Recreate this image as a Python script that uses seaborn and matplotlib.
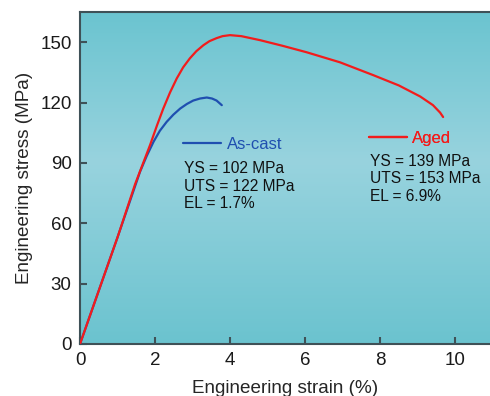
import numpy as np
import pandas as pd
import matplotlib
matplotlib.use("Agg")
import matplotlib.pyplot as plt
from matplotlib.colors import LinearSegmentedColormap
from matplotlib.lines import Line2D
import seaborn as sns

# values
aged_strain = [0, 0.5, 1.0, 1.47, 1.87, 2.05, 2.22, 2.4, 2.58, 2.75, 2.93, 3.1, 3.29, 3.45, 3.64,
               3.8, 4.0, 4.3, 4.8, 5.4, 6.04, 6.93, 7.82, 8.5, 9.07, 9.41, 9.6, 9.68]
aged_stress = [0, 26.5, 53, 79.5, 99, 108.5, 117, 125, 132, 137.5, 142, 145.5, 148.5, 150.5, 152,
               153, 153.5, 153, 151, 148.2, 145, 140, 133.6, 128.5, 123, 118.7, 115, 112.8]

cast_strain = [0, 0.5, 1.0, 1.47, 1.6, 1.78, 1.96, 2.13, 2.31, 2.49, 2.67, 2.85, 3.02, 3.2,
               3.38, 3.52, 3.64, 3.78]
cast_stress = [0, 26.5, 53, 78.5, 85.6, 93.5, 100.5, 106, 110.4, 114, 117, 119.3, 121, 122,
               122.5, 122, 121, 118.7]

series = ["As-cast", "Aged"]
colors = ["#1f4fb0", "#f21c1c"]
props = [["YS = 102 MPa", "UTS = 122 MPa", "EL = 1.7%"],
         ["YS = 139 MPa", "UTS = 153 MPa", "EL = 6.9%"]]

df = pd.concat([
    pd.DataFrame({"strain": cast_strain, "stress": cast_stress, "state": "As-cast"}),
    pd.DataFrame({"strain": aged_strain, "stress": aged_stress, "state": "Aged"}),
])

sns.set_style("ticks")
plt.rcParams["font.family"] = ["Liberation Sans", "DejaVu Sans"]

fig = plt.figure(figsize=(4.9, 3.96), dpi=100)
ax = fig.add_axes([80 / 490, 52 / 396, 410 / 490, 332 / 396])

# gradient background
bg = LinearSegmentedColormap.from_list(
    "bg", [(0, "#6bc4d0"), (0.45, "#98d3de"), (1, "#6bc3cf")])
grad = np.linspace(0, 1, 256).reshape(-1, 1)
ax.imshow(grad, cmap=bg, aspect="auto", extent=[0, 1, 0, 1],
          transform=ax.transAxes, zorder=0, origin="upper")

sns.lineplot(data=df, x="strain", y="stress", hue="state", hue_order=series,
             palette=colors, sort=False, estimator=None, lw=1.6, ax=ax,
             legend=False, zorder=3)

ax.set_xlim(0, 10.93)
ax.set_ylim(0, 165)
ax.set_xticks([0, 2, 4, 6, 8, 10])
ax.set_yticks([0, 30, 60, 90, 120, 150])
ax.set_xlabel("Engineering strain (%)", fontsize=13.6, labelpad=8)
ax.set_ylabel("Engineering stress (MPa)", fontsize=13.6, labelpad=5)

spine_c = "#3f5157"
for s in ["left", "bottom", "top"]:
    ax.spines[s].set_color(spine_c)
    ax.spines[s].set_linewidth(1.5)
ax.spines["right"].set_visible(False)
ax.tick_params(direction="in", length=5, width=1.5, color=spine_c,
               labelsize=13.5, labelcolor="#1a1a1a", pad=6)

# legends and property text
leg_pos = [(2.75, 99), (7.7, 102)]
txt_pos = [(2.77, 91), (7.73, 94.5)]
for i in range(2):
    h = Line2D([], [], color=colors[i], lw=1.6)
    lg = ax.legend([h], [series[i]], loc="center left", bbox_to_anchor=leg_pos[i],
                   bbox_transform=ax.transData, frameon=False, handlelength=2.3,
                   handletextpad=0.3, borderaxespad=0, borderpad=0, fontsize=12)
    for t in lg.get_texts():
        t.set_color(colors[i])
    ax.add_artist(lg)
    ax.text(txt_pos[i][0], txt_pos[i][1], "\n".join(props[i]), fontsize=11.2,
            color="#111111", va="top", ha="left", linespacing=1.22, zorder=4)

fig.savefig("out.png", dpi=100)
